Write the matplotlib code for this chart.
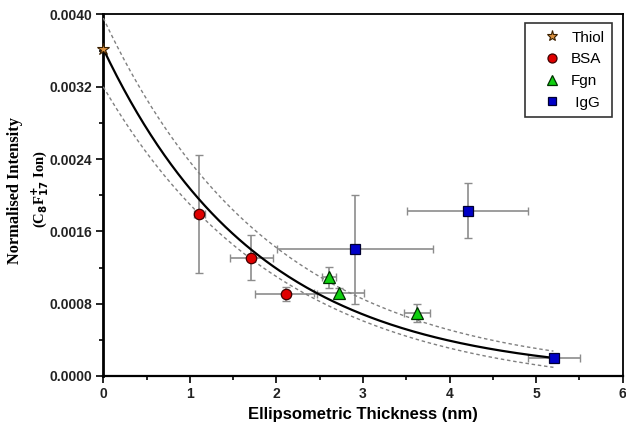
import numpy as np
import matplotlib
matplotlib.use("Agg")
import matplotlib.pyplot as plt
from matplotlib.lines import Line2D

# data
thiol_x = [0.0]
thiol_y = [0.00362]

bsa_x = [1.11, 1.71, 2.11]
bsa_y = [0.00179, 0.00131, 0.00091]
bsa_xerr = [0.06, 0.25, 0.36]
bsa_yerr = [0.00065, 0.00025, 0.00008]

fgn_x = [2.61, 2.72, 3.62]
fgn_y = [0.00109, 0.00092, 0.00070]
fgn_xerr = [0.08, 0.29, 0.15]
fgn_yerr = [0.00012, 0.00005, 0.00010]

igg_x = [2.91, 4.21, 5.21]
igg_y = [0.00140, 0.00183, 0.00020]
igg_xerr = [0.90, 0.70, 0.30]
igg_yerr = [0.00060, 0.00030, 0.00002]

# exponential decay fit and its confidence band: y = y0 + A*exp(-x/t)
fit_params = (0.0, 0.00362, 1.796)
upper_params = (0.0, 0.00396, 1.95)
lower_params = (-0.000171, 0.003371, 2.05)
fit_xmax = 5.2

legend_labels = ["Thiol", "BSA", "Fgn", " IgG"]

plt.rcParams["font.family"] = ["Liberation Sans", "DejaVu Sans"]

fig = plt.figure(figsize=(6.26, 4.26), dpi=100)
ax = fig.add_axes([0.165, 0.1174, 0.8297, 0.8486])

# error bars first so markers sit on top
err_kw = dict(fmt="none", ecolor="#8c8c8c", elinewidth=1.2, capsize=3, capthick=1.0, zorder=2)
ax.errorbar(bsa_x, bsa_y, xerr=bsa_xerr, yerr=bsa_yerr, **err_kw)
ax.errorbar(fgn_x, fgn_y, xerr=fgn_xerr, yerr=fgn_yerr, **err_kw)
ax.errorbar(igg_x, igg_y, xerr=igg_xerr, yerr=igg_yerr, **err_kw)

xs = np.linspace(0, fit_xmax, 200)
def decay(p):
    y0, a, t = p
    return y0 + a * np.exp(-xs / t)

ax.plot(xs, decay(fit_params), color="black", lw=1.6, zorder=3)
for p in (upper_params, lower_params):
    ax.plot(xs, decay(p), color="#808080", lw=1.0, ls=(0, (2.5, 2.0)), zorder=3)

ax.plot(thiol_x, thiol_y, ls="none", marker="*", ms=9, mfc="#d89040", mec="#3a2000",
        mew=0.8, clip_on=False, zorder=5)
ax.plot(bsa_x, bsa_y, ls="none", marker="o", ms=7.5, mfc="#e00000", mec="#400000", mew=0.9, zorder=5)
ax.plot(fgn_x, fgn_y, ls="none", marker="^", ms=9, mfc="#10d010", mec="#003000", mew=0.9, zorder=5)
ax.plot(igg_x, igg_y, ls="none", marker="s", ms=7, mfc="#0000c8", mec="#000030", mew=0.9, zorder=5)

ax.set_xlim(0, 6)
ax.set_ylim(0, 0.0040)
ax.set_xticks(np.arange(0, 7, 1))
ax.set_xticks(np.arange(0.5, 6, 1), minor=True)
ax.set_yticks(np.arange(0, 0.0041, 0.0008))
ax.set_yticks(np.arange(0.0004, 0.004, 0.0008), minor=True)
ax.set_yticklabels([f"{v:.4f}" for v in np.arange(0, 0.0041, 0.0008)])
ax.tick_params(axis="both", which="major", direction="out", length=5, width=1.2,
               labelsize=10, pad=3)
ax.tick_params(axis="both", which="minor", direction="out", length=3, width=1.2)
for lab in ax.get_xticklabels() + ax.get_yticklabels():
    lab.set_fontweight("bold")
    lab.set_color("#222222")

for s in ax.spines.values():
    s.set_linewidth(1.3)
ax.spines["left"].set_linewidth(2.0)
ax.spines["bottom"].set_linewidth(1.6)

ax.set_xlabel("Ellipsometric Thickness (nm)", fontsize=12, fontweight="bold", labelpad=4)

# two-line y label in a serif face
fig.text(15 / 626, 1 - 190 / 426, "Normalised Intensity", rotation=90, ha="center", va="center",
         family="Liberation Serif", fontweight="bold", fontsize=11.8)
fig.text(40 / 626, 1 - 189 / 426, r"(C$_\mathbf{8}$F$_\mathbf{17}^{\mathbf{+}}$ Ion)", rotation=90,
         ha="center", va="center", family="Liberation Serif", fontweight="bold", fontsize=10.5)

handles = [
    Line2D([], [], ls="none", marker="*", ms=8, mfc="#d89040", mec="#3a2000", mew=0.8),
    Line2D([], [], ls="none", marker="o", ms=6.5, mfc="#e00000", mec="#400000", mew=0.9),
    Line2D([], [], ls="none", marker="^", ms=7.5, mfc="#10d010", mec="#003000", mew=0.9),
    Line2D([], [], ls="none", marker="s", ms=6, mfc="#0000c8", mec="#000030", mew=0.9),
]
leg = ax.legend(handles, legend_labels, loc="upper right", bbox_to_anchor=(0.979, 0.9765),
                borderaxespad=0, fontsize=11, frameon=True, fancybox=False, edgecolor="black",
                handlelength=2.5, handletextpad=0.0, borderpad=0.5, labelspacing=0.5)
leg.get_frame().set_linewidth(1.2)

fig.savefig("out.png", dpi=100)
